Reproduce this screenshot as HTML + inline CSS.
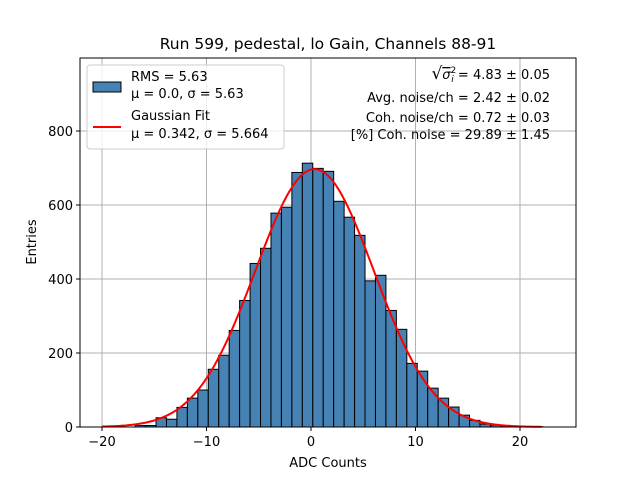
<!DOCTYPE html>
<html><head><meta charset="utf-8"><style>
body{margin:0;background:#fff}
svg{font-family:"DejaVu Sans","Liberation Sans",sans-serif;display:block}
</style></head><body>
<svg id="c" width="640" height="480" viewBox="0 0 640 480">
<rect width="640" height="480" fill="#fff"/>
<g id="grid"></g>
<g id="bars"></g>
<path id="fit" fill="none" stroke="#ff0000" stroke-width="2"/>
<rect x="80" y="58" width="496" height="369" fill="none" stroke="#000" stroke-width="1"/>
<g id="ticks" font-size="13" fill="#000"></g>
<text x="328" y="49" text-anchor="middle" font-size="15.5">Run 599, pedestal, lo Gain, Channels 88-91</text>
<text x="328" y="467" text-anchor="middle" font-size="13">ADC Counts</text>
<text transform="translate(36,242) rotate(-90)" text-anchor="middle" font-size="13">Entries</text>
<g>
<rect x="87" y="65" width="197" height="84" rx="3" fill="#fff" fill-opacity="0.8" stroke="#ccc"/>
<rect x="93" y="82" width="28" height="10" fill="#4682b4" stroke="#000"/>
<text x="131" y="81" font-size="13">RMS = 5.63</text>
<text x="131" y="98" font-size="13">μ = 0.0, σ = 5.63</text>
<line x1="93" y1="127" x2="121" y2="127" stroke="#ff0000" stroke-width="2"/>
<text x="131" y="120" font-size="13">Gaussian Fit</text>
<text x="131" y="138" font-size="13">μ = 0.342, σ = 5.664</text>
</g>
<g font-size="13" text-anchor="end">
<text x="550" y="79"><tspan font-size="17">√</tspan><tspan text-decoration="overline" font-style="italic">σ</tspan><tspan font-size="9" dy="-6">2</tspan><tspan font-size="9" dx="-5" dy="9" font-style="italic">i</tspan><tspan dy="-3">  = 4.83 ± 0.05</tspan></text>
<text x="550" y="102">Avg. noise/ch = 2.42 ± 0.02</text>
<text x="550" y="122">Coh. noise/ch = 0.72 ± 0.03</text>
<text x="550" y="139">[%] Coh. noise = 29.89 ± 1.45</text>
</g>
</svg>
<script>
const binStart = -16.83;
const binWidth = 1;
const counts = [4,4,25,21,53,78,100,156,194,261,342,442,483,578,594,688,713,699,691,610,567,518,395,410,315,264,172,151,105,78,54,32,18,8,5,3,2,1,1];
const fitMu = 0.342;
const fitSigma = 5.664;
const fitAmp = 697;
const xTicks = [-20,-10,0,10,20];
const yTicks = [0,200,400,600,800];

const NS='http://www.w3.org/2000/svg';
const X = v => 311 + v*10.45;
const Y = v => 427 - v*0.37;
function mk(tag, attrs, parent){const e=document.createElementNS(NS,tag);for(const k in attrs)e.setAttribute(k,attrs[k]);parent.appendChild(e);return e;}
const grid=document.getElementById('grid'), bars=document.getElementById('bars'), ticks=document.getElementById('ticks');
xTicks.forEach(t=>{
  const l=mk('line',{x1:X(t),x2:X(t),y1:58,y2:427,stroke:'#b0b0b0','stroke-width':1},grid);
  
  
  const k=mk('line',{x1:X(t),x2:X(t),y1:427,y2:431,stroke:'#000'},ticks);
  
  
  const s=mk('text',{x:X(t),y:446,'text-anchor':'middle'},ticks);
  s.textContent=(t<0?'−'+(-t):t);
  
  
});
yTicks.forEach(t=>{
  const l=mk('line',{x1:80,x2:576,y1:Y(t),y2:Y(t),stroke:'#b0b0b0','stroke-width':1},grid);
  
  
  const k=mk('line',{x1:76,x2:80,y1:Y(t),y2:Y(t),stroke:'#000'},ticks);
  
  
  const s=mk('text',{x:73,y:Y(t)+5,'text-anchor':'end'},ticks);
  s.textContent=t;
  
  
});
counts.forEach((c,i)=>{
  const x0=binStart+i*binWidth;
  const r=mk('rect',{x:X(x0),y:Y(c),width:X(x0+binWidth)-X(x0),height:Y(0)-Y(c),fill:'#4682b4',stroke:'#000','stroke-width':1},bars);
  
  
});
let d='';
for(let i=0;i<=300;i++){const v=-20+42*i/300;const y=fitAmp*Math.exp(-0.5*((v-fitMu)/fitSigma)**2);d+=(i?'L':'M')+X(v).toFixed(2)+','+Y(y).toFixed(2);}
document.getElementById('fit').setAttribute('d',d);
</script>
</body></html>
